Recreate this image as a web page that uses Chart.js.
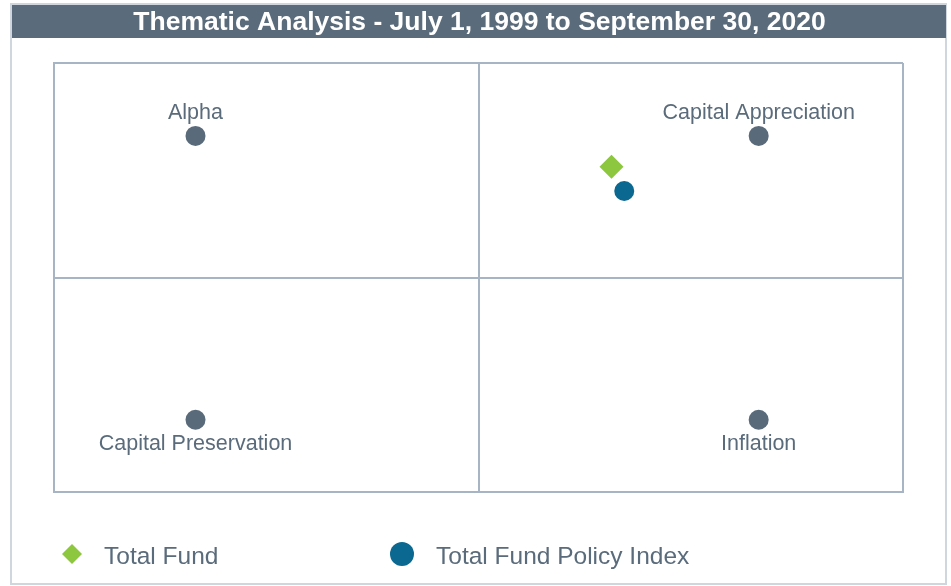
<!DOCTYPE html>
<html>
<head>
<meta charset="utf-8">
<script src="https://cdn.jsdelivr.net/npm/chart.js@4/dist/chart.umd.min.js"></script>
<style>
  html, body { margin: 0; padding: 0; background: #ffffff; }
  #wrap { position: relative; width: 951px; height: 586px; }
  canvas { display: block; }
</style>
</head>
<body>
<div id="wrap"><canvas id="c" width="951" height="586"></canvas></div>
<script>
// ---- Data ----
const chartTitle = "Thematic Analysis - July 1, 1999 to September 30, 2020";
const themeLabels = ["Alpha", "Capital Appreciation", "Capital Preservation", "Inflation"];
const themeX = [-2, 1.98, -2, 1.98];
const themeY = [1.98, 1.98, -1.99, -1.99];
const labelAbove = [true, true, false, false];
const seriesNames = ["Total Fund", "Total Fund Policy Index"];
const totalFundX = [0.94];
const totalFundY = [1.55];
const policyX = [1.03];
const policyY = [1.21];
const axisMin = -3;
const axisMax = 3;
const quadrantTicks = [-3, 0, 3];

// ---- Styles ----
const TEXT = "#5a6b7b";
const SLATE = "#596a7b";
const GREEN = "#8dc63f";
const BLUE = "#0b6891";
const GRID = "#a6b4c4";
const FONT = "'Liberation Sans', Arial, sans-serif";

const toPts = (xs, ys) => xs.map((x, i) => ({ x: x, y: ys[i] }));

const framePlugin = {
  id: "frame",
  beforeDraw(chart) {
    const ctx = chart.ctx;
    ctx.save();
    ctx.fillStyle = "#ffffff";
    ctx.fillRect(0, 0, chart.width, chart.height);
    // outer border
    ctx.strokeStyle = "#d0d6de";
    ctx.lineWidth = 2;
    ctx.strokeRect(11, 4, 935, 580);
    // title bar
    ctx.fillStyle = "#5a6b7b";
    ctx.fillRect(12, 5, 934, 33);
    ctx.fillStyle = "#ffffff";
    ctx.font = "bold 26.5px " + FONT;
    ctx.textAlign = "center";
    ctx.textBaseline = "middle";
    ctx.fillText(chartTitle, 479.5, 23);
    ctx.restore();
  },
  afterDatasetsDraw(chart) {
    const ctx = chart.ctx;
    const xs = chart.scales.x, ys = chart.scales.y;
    ctx.save();
    ctx.fillStyle = TEXT;
    ctx.font = "21.5px " + FONT;
    ctx.textAlign = "center";
    ctx.textBaseline = "middle";
    themeLabels.forEach((lab, i) => {
      const px = xs.getPixelForValue(themeX[i]);
      const py = ys.getPixelForValue(themeY[i]);
      ctx.fillText(lab, px, labelAbove[i] ? py - 23 : py + 24);
    });
    // legend
    const legY = 554;
    ctx.font = "24.5px " + FONT;
    ctx.textAlign = "left";
    // diamond
    ctx.fillStyle = GREEN;
    ctx.beginPath();
    ctx.moveTo(72, legY - 10); ctx.lineTo(82, legY); ctx.lineTo(72, legY + 10); ctx.lineTo(62, legY);
    ctx.closePath(); ctx.fill();
    ctx.fillStyle = TEXT;
    ctx.fillText(seriesNames[0], 104, legY + 3);
    // circle
    ctx.fillStyle = BLUE;
    ctx.beginPath(); ctx.arc(402, legY, 12, 0, Math.PI * 2); ctx.fill();
    ctx.fillStyle = TEXT;
    ctx.fillText(seriesNames[1], 436, legY + 3);
    ctx.restore();
  }
};

new Chart(document.getElementById("c"), {
  type: "scatter",
  data: {
    datasets: [
      {
        label: "Themes",
        data: toPts(themeX, themeY),
        pointStyle: "circle",
        pointRadius: 10,
        pointHoverRadius: 10,
        backgroundColor: SLATE,
        borderWidth: 0
      },
      {
        label: seriesNames[0],
        data: toPts(totalFundX, totalFundY),
        pointStyle: "rectRot",
        pointRadius: 12,
        pointHoverRadius: 12,
        backgroundColor: GREEN,
        borderWidth: 0
      },
      {
        label: seriesNames[1],
        data: toPts(policyX, policyY),
        pointStyle: "circle",
        pointRadius: 10,
        pointHoverRadius: 10,
        backgroundColor: BLUE,
        borderWidth: 0
      }
    ]
  },
  options: {
    responsive: false,
    animation: false,
    events: [],
    layout: { padding: { left: 54, right: 48, top: 63, bottom: 94 } },
    plugins: { legend: { display: false }, title: { display: false }, tooltip: { enabled: false } },
    scales: {
      x: {
        type: "linear", min: axisMin, max: axisMax,
        afterBuildTicks: (s) => { s.ticks = quadrantTicks.map(v => ({ value: v })); },
        ticks: { display: false },
        grid: { color: GRID, lineWidth: 2, drawTicks: false },
        border: { display: true, color: GRID, width: 2 }
      },
      y: {
        type: "linear", min: axisMin, max: axisMax,
        afterBuildTicks: (s) => { s.ticks = quadrantTicks.map(v => ({ value: v })); },
        ticks: { display: false },
        grid: { color: GRID, lineWidth: 2, drawTicks: false },
        border: { display: true, color: GRID, width: 2 }
      }
    }
  },
  plugins: [framePlugin]
});
</script>
</body>
</html>
